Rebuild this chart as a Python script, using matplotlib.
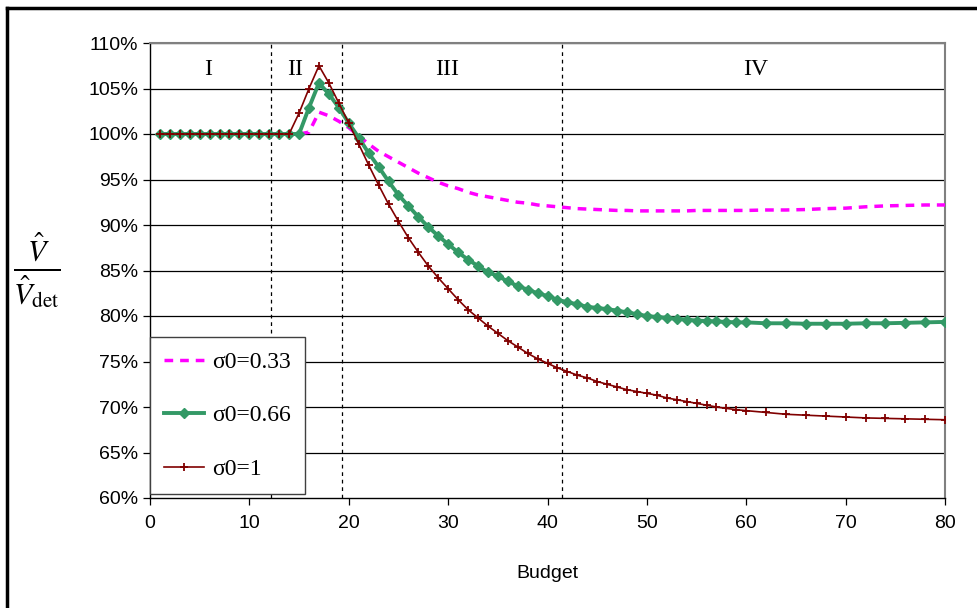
import matplotlib.pyplot as plt
from matplotlib.lines import Line2D

# budget values (1..60 step 1, then step 2 up to 80)
budget = [1, 2, 3, 4, 5, 6, 7, 8, 9, 10, 11, 12, 13, 14, 15, 16, 17, 18, 19, 20,
          21, 22, 23, 24, 25, 26, 27, 28, 29, 30, 31, 32, 33, 34, 35, 36, 37, 38, 39, 40,
          41, 42, 43, 44, 45, 46, 47, 48, 49, 50, 51, 52, 53, 54, 55, 56, 57, 58, 59, 60,
          62, 64, 66, 68, 70, 72, 74, 76, 78, 80]

# V / V_det in percent
sigma_033 = [100, 100, 100, 100, 100, 100, 100, 100, 100, 100, 100, 100, 100, 100, 100, 100.2, 102.4, 102.0, 101.4, 100.7,
             99.8, 98.9, 98.1, 97.5, 96.9, 96.3, 95.7, 95.2, 94.7, 94.3, 94.0, 93.6, 93.3, 93.1, 92.9, 92.7, 92.5, 92.4, 92.2, 92.1,
             92.0, 91.9, 91.8, 91.75, 91.7, 91.65, 91.6, 91.6, 91.55, 91.55, 91.55, 91.55, 91.55, 91.55, 91.6, 91.6, 91.6, 91.6, 91.6, 91.6,
             91.65, 91.65, 91.7, 91.8, 91.85, 92.0, 92.1, 92.15, 92.2, 92.2]
sigma_066 = [100, 100, 100, 100, 100, 100, 100, 100, 100, 100, 100, 100, 100, 100, 100, 102.9, 105.6, 104.4, 102.9, 101.2,
             99.6, 97.9, 96.4, 94.8, 93.3, 92.1, 90.9, 89.8, 88.8, 87.9, 87.0, 86.2, 85.5, 84.8, 84.4, 83.8, 83.3, 82.9, 82.5, 82.2,
             81.8, 81.5, 81.3, 81.0, 80.9, 80.75, 80.6, 80.4, 80.2, 80.0, 79.9, 79.8, 79.7, 79.6, 79.5, 79.45, 79.4, 79.35, 79.3, 79.3,
             79.2, 79.2, 79.15, 79.15, 79.15, 79.2, 79.2, 79.25, 79.3, 79.35]
sigma_1 = [100, 100, 100, 100, 100, 100, 100, 100, 100, 100, 100, 100, 100, 100, 102.3, 105.0, 107.5, 105.6, 103.4, 101.2,
           98.9, 96.6, 94.4, 92.3, 90.4, 88.6, 87.0, 85.5, 84.2, 83.0, 81.8, 80.7, 79.8, 78.9, 78.1, 77.3, 76.6, 75.9, 75.3, 74.8,
           74.3, 73.9, 73.5, 73.2, 72.8, 72.5, 72.2, 71.9, 71.7, 71.5, 71.3, 71.0, 70.8, 70.6, 70.4, 70.2, 70.0, 69.85, 69.7, 69.6,
           69.4, 69.2, 69.1, 69.0, 68.9, 68.8, 68.75, 68.7, 68.65, 68.6]

region_bounds = [12.2, 19.3, 41.45]
region_names = ["I", "II", "III", "IV"]
region_x = [5.8, 14.6, 29.9, 60.9]

plt.rcParams["mathtext.fontset"] = "stix"

fig = plt.figure(figsize=(9.78, 6.08), dpi=100)
ax = fig.add_axes([150/978, 1-498/608, 795/978, 455/608])

# horizontal grid
for yv in range(65, 111, 5):
    ax.axhline(yv, color="black", lw=0.9, zorder=1)

for xb in region_bounds:
    ax.axvline(xb, color="black", lw=0.9, ls=(0, (3, 3)), zorder=1)

for name, xr in zip(region_names, region_x):
    ax.text(xr, 107.1, name, ha="center", va="center", fontsize=17,
            family="Liberation Serif")

ax.plot(budget, sigma_033, color="#FF00FF", lw=2.5, ls=(0, (2.5, 2)),
        label="σ0=0.33", zorder=3)
ax.plot(budget, sigma_066, color="#339966", lw=2.8, marker="D", ms=5,
        label="σ0=0.66", zorder=4)
ax.plot(budget, sigma_1, color="#800000", lw=1.2, marker="+", ms=6, mew=1.3,
        label="σ0=1", zorder=5)

ax.set_xlim(0, 80)
ax.set_ylim(60, 110)
ax.set_xticks(range(0, 81, 10))
ax.set_yticks(range(60, 111, 5))
ax.set_yticklabels([f"{v}%" for v in range(60, 111, 5)])
for lbl in ax.get_xticklabels() + ax.get_yticklabels():
    lbl.set_family("Liberation Sans")
    lbl.set_fontsize(14)
ax.tick_params(direction="out", length=5, width=0.9, color="black")
ax.tick_params(axis="x", pad=7)
ax.set_xlabel("Budget", fontsize=14, family="Liberation Sans", labelpad=24)

for side in ["top", "right"]:
    ax.spines[side].set_color("#808080")
    ax.spines[side].set_linewidth(1.5)
for side in ["left", "bottom"]:
    ax.spines[side].set_color("black")
    ax.spines[side].set_linewidth(1.0)

fig.text(37/978, 1-270/608, r"$\frac{\hat{V}}{\hat{V}_{\mathrm{det}}}$",
         fontsize=31, ha="center", va="center")

leg = ax.legend(loc="lower left", bbox_to_anchor=(0, 4/455), borderaxespad=0,
                prop={"family": "Liberation Serif", "size": 17},
                handlelength=1.7, labelspacing=1.35, borderpad=0.6,
                handletextpad=0.35, fancybox=False, framealpha=1)
leg.get_frame().set_edgecolor("#404040")
leg.get_frame().set_linewidth(1.0)
leg.set_zorder(10)

# outer frame (only top and left edges fall inside the image)
fig.add_artist(Line2D([7/978, 7/978], [0, 1-8/608], transform=fig.transFigure,
                      color="black", lw=2.5))
fig.add_artist(Line2D([7/978, 1], [1-8/608, 1-8/608], transform=fig.transFigure,
                      color="black", lw=2.5))

fig.savefig("out.png", dpi=100)
